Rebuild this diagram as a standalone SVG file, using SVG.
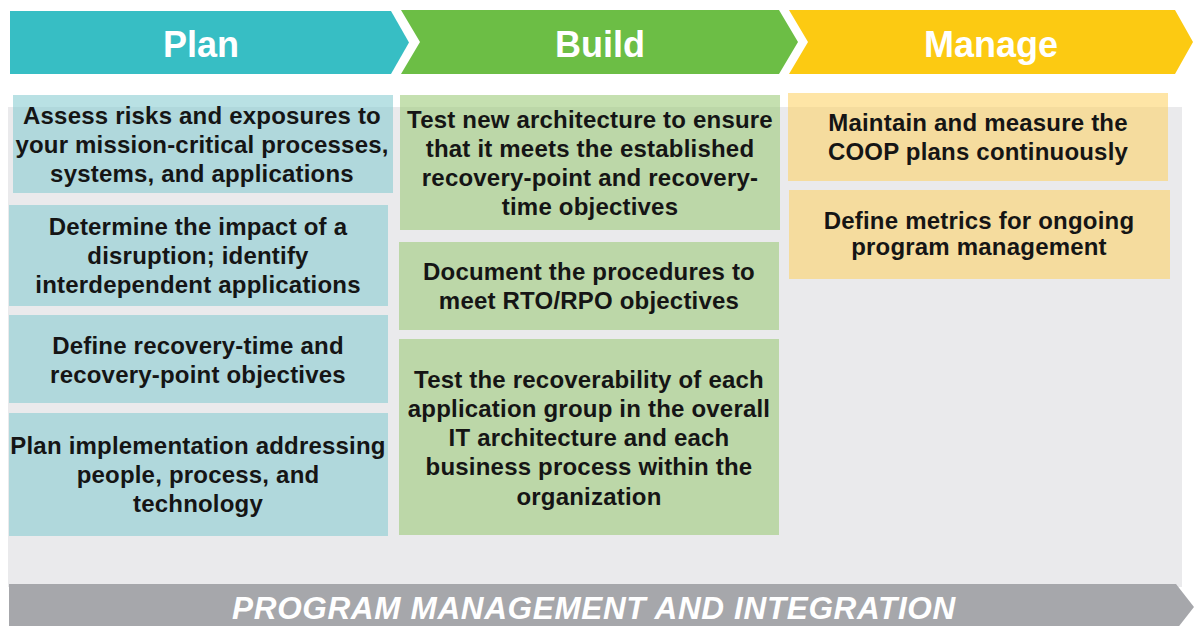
<svg xmlns="http://www.w3.org/2000/svg" width="1197" height="626" viewBox="0 0 1197 626">
<style>
.hd{font-family:"Liberation Sans",Arial,sans-serif;font-weight:bold;font-size:36px;fill:#fff;text-anchor:middle}
.bx{font-family:"Liberation Sans",Arial,sans-serif;font-weight:bold;font-size:24px;letter-spacing:0.2px;fill:#151515;text-anchor:middle}
.ft{font-family:"Liberation Sans",Arial,sans-serif;font-weight:bold;font-style:italic;font-size:31.5px;letter-spacing:0.65px;fill:#fff;text-anchor:middle}
.pl{fill:#84CAD0;fill-opacity:0.57}
.bu{fill:#99C874;fill-opacity:0.57}
.ma{fill:#FED162;fill-opacity:0.57}
</style>
<rect width="1197" height="626" fill="#fff"/>
<rect id="background" x="8" y="107" width="1174" height="480" fill="#EAEAEC"/>
<g id="header-plan">
<polygon points="10,11 391,11 409,42.5 391,74 10,74" fill="#37BEC4"/>
<text class="hd" x="201" y="57">Plan</text>
</g>
<g id="header-build">
<polygon points="401,10 779,10 798,42 779,74 401,74 420,42" fill="#6CBE45"/>
<text class="hd" x="600" y="57">Build</text>
</g>
<g id="header-manage">
<polygon points="789,10 1175,10 1193,42 1175,74 789,74 808,42" fill="#FCCA12"/>
<text class="hd" x="991" y="57">Manage</text>
</g>
<g id="plan-1">
<rect class="pl" x="13" y="95" width="380" height="98"/>
<text class="bx" x="202" y="124">Assess risks and exposures to</text>
<text class="bx" x="202" y="153">your mission-critical processes,</text>
<text class="bx" x="202" y="182">systems, and applications</text>
</g>
<g id="plan-2">
<rect class="pl" x="9" y="205" width="379" height="101"/>
<text class="bx" x="198" y="235">Determine the impact of a</text>
<text class="bx" x="198" y="264">disruption; identify</text>
<text class="bx" x="198" y="293">interdependent applications</text>
</g>
<g id="plan-3">
<rect class="pl" x="9" y="315" width="379" height="88"/>
<text class="bx" x="198" y="354">Define recovery-time and</text>
<text class="bx" x="198" y="383">recovery-point objectives</text>
</g>
<g id="plan-4">
<rect class="pl" x="9" y="413" width="379" height="123"/>
<text class="bx" x="198" y="454">Plan implementation addressing</text>
<text class="bx" x="198" y="483">people, process, and</text>
<text class="bx" x="198" y="512">technology</text>
</g>
<g id="build-1">
<rect class="bu" x="400" y="95" width="380" height="135"/>
<text class="bx" x="590" y="128">Test new architecture to ensure</text>
<text class="bx" x="590" y="157">that it meets the established</text>
<text class="bx" x="590" y="186">recovery-point and recovery-</text>
<text class="bx" x="590" y="215">time objectives</text>
</g>
<g id="build-2">
<rect class="bu" x="399" y="242" width="380" height="88"/>
<text class="bx" x="589" y="280">Document the procedures to</text>
<text class="bx" x="589" y="309">meet RTO/RPO objectives</text>
</g>
<g id="build-3">
<rect class="bu" x="399" y="339" width="380" height="196"/>
<text class="bx" x="589" y="388">Test the recoverability of each</text>
<text class="bx" x="589" y="417">application group in the overall</text>
<text class="bx" x="589" y="446">IT architecture and each</text>
<text class="bx" x="589" y="475">business process within the</text>
<text class="bx" x="589" y="505">organization</text>
</g>
<g id="manage-1">
<rect class="ma" x="788" y="93" width="380" height="88"/>
<text class="bx" x="978" y="131">Maintain and measure the</text>
<text class="bx" x="978" y="160">COOP plans continuously</text>
</g>
<g id="manage-2">
<rect class="ma" x="789" y="190" width="381" height="89"/>
<text class="bx" x="979" y="229">Define metrics for ongoing</text>
<text class="bx" x="979" y="255">program management</text>
</g>
<g id="footer">
<polygon points="9,584 1176,584 1194,607 1176,630 9,630" fill="#A6A7AB"/>
<text class="ft" x="594" y="619">PROGRAM MANAGEMENT AND INTEGRATION</text>
</g>
<g id="connectors"></g>
</svg>
